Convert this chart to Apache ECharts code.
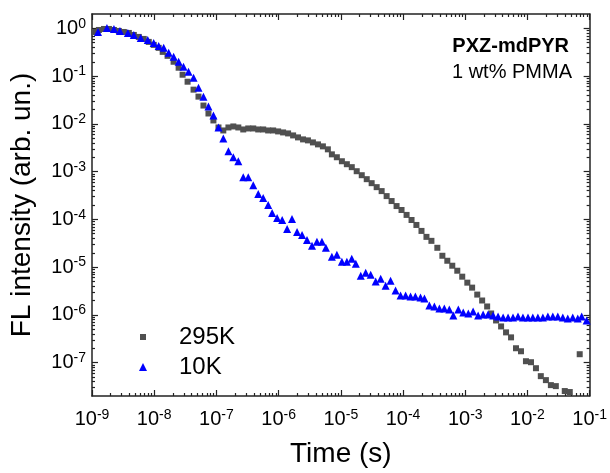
<!DOCTYPE html>
<html>
<head>
<meta charset="utf-8">
<script src="https://cdn.jsdelivr.net/npm/echarts@6.0.0/dist/echarts.min.js"></script>
<style>
html, body { margin: 0; padding: 0; background: #fff; }
#chart { width: 610px; height: 473px; }
</style>
</head>
<body>
<div id="chart"></div>
<script>
// 295K: time (s) / intensity (arb. un.)
const time295 = [1.08e-9, 1.29e-9, 1.56e-9, 1.87e-9, 2.25e-9, 2.70e-9, 3.25e-9, 3.91e-9, 4.70e-9, 5.65e-9, 6.79e-9, 8.17e-9, 9.82e-9,
  1.18e-8, 1.37e-8, 1.64e-8, 2.05e-8, 2.47e-8, 2.86e-8, 3.44e-8, 4.29e-8, 5.15e-8, 6.19e-8, 7.45e-8, 8.95e-8,
  1.08e-7, 1.29e-7, 1.56e-7, 1.87e-7, 2.25e-7, 2.70e-7, 3.25e-7, 3.91e-7, 4.70e-7, 5.65e-7, 6.79e-7, 8.17e-7, 9.82e-7,
  1.18e-6, 1.42e-6, 1.71e-6, 2.05e-6, 2.47e-6, 2.96e-6, 3.56e-6, 4.29e-6, 5.15e-6, 6.19e-6, 7.18e-6, 8.63e-6,
  1.04e-5, 1.25e-5, 1.50e-5, 1.80e-5, 2.17e-5, 2.61e-5, 3.13e-5, 3.77e-5, 4.53e-5, 5.45e-5, 6.55e-5, 7.87e-5, 9.46e-5,
  1.14e-4, 1.37e-4, 1.64e-4, 1.98e-4, 2.38e-4, 2.86e-4, 3.56e-4, 4.29e-4, 5.15e-4, 6.19e-4, 7.45e-4, 8.95e-4,
  1.08e-3, 1.29e-3, 1.56e-3, 1.87e-3, 2.25e-3, 2.61e-3, 3.13e-3, 3.77e-3, 4.53e-3, 5.45e-3, 6.55e-3, 7.87e-3, 9.46e-3,
  1.14e-2, 1.37e-2, 1.64e-2, 1.98e-2, 2.38e-2, 2.86e-2, 3.98e-2, 4.79e-2, 6.92e-2]
const int295 = [0.841, 0.926, 0.972, 0.972, 0.926, 0.883, 0.841, 0.802, 0.728, 0.662,
  0.601, 0.521, 0.451, 0.391, 0.322, 0.266, 0.200, 0.150, 0.107, 0.0764,
  0.0521, 0.0372, 0.0242, 0.0165, 0.0118, 0.00841, 0.00728, 0.00841, 0.00883, 0.00841,
  0.00764, 0.00802, 0.00802, 0.00764, 0.00764, 0.00728, 0.00728, 0.00695, 0.00662, 0.00631,
  0.00573, 0.00521, 0.00473, 0.00451, 0.00409, 0.00372, 0.00338, 0.00293, 0.00230, 0.00200,
  0.00165, 0.00143, 0.00124, 0.00102, 8.41e-4, 6.95e-4, 5.73e-4, 4.73e-4, 3.91e-4, 3.07e-4,
  2.42e-4, 1.90e-4, 1.57e-4, 1.24e-4, 9.71e-5, 7.64e-5, 5.73e-5, 4.30e-5, 3.55e-5, 2.54e-5,
  1.73e-5, 1.36e-5, 1.07e-5, 8.41e-6, 6.31e-6, 4.73e-6, 3.72e-6, 2.66e-6, 2.00e-6, 1.50e-6,
  1.07e-6, 7.64e-7, 5.73e-7, 4.30e-7, 3.38e-7, 2.00e-7, 1.73e-7, 1.07e-7, 1.02e-7, 7.64e-8,
  5.21e-8, 4.30e-8, 3.38e-8, 3.22e-8, 2.54e-8, 2.42e-8, 1.50e-7]

// 10K
const time10 = [1.25e-9, 1.74e-9, 2.25e-9, 2.81e-9, 3.77e-9, 4.70e-9, 6.08e-9, 7.87e-9, 9.82e-9, 1.18e-8, 1.42e-8, 1.71e-8, 2.05e-8,
  2.47e-8, 2.96e-8, 3.56e-8, 4.29e-8, 5.15e-8, 6.19e-8, 7.45e-8, 8.95e-8, 1.08e-7, 1.29e-7, 1.56e-7, 1.87e-7,
  2.25e-7, 2.70e-7, 3.25e-7, 3.91e-7, 4.70e-7, 5.65e-7, 6.79e-7, 7.87e-7, 9.46e-7, 1.14e-6, 1.37e-6, 1.64e-6,
  1.98e-6, 2.38e-6, 2.86e-6, 3.44e-6, 4.13e-6, 4.97e-6, 5.75e-6, 7.18e-6, 8.63e-6, 1.04e-5, 1.25e-5, 1.50e-5, 1.74e-5,
  2.09e-5, 2.51e-5, 3.02e-5, 3.63e-5, 4.37e-5, 5.25e-5, 6.31e-5, 7.59e-5, 9.12e-5, 1.10e-4, 1.32e-4, 1.58e-4, 1.91e-4,
  2.21e-4, 2.65e-4, 3.19e-4, 3.84e-4, 4.61e-4, 5.55e-4, 6.43e-4, 7.73e-4, 9.29e-4, 1.12e-3, 1.34e-3, 1.61e-3,
  1.94e-3, 2.33e-3, 2.81e-3, 3.37e-3, 4.06e-3, 4.88e-3, 5.86e-3, 7.05e-3, 8.47e-3, 1.02e-2, 1.22e-2, 1.47e-2,
  1.77e-2, 2.13e-2, 2.56e-2, 3.08e-2, 3.70e-2, 4.45e-2, 5.35e-2, 6.43e-2, 7.45e-2, 8.95e-2]
const int10 = [0.841, 1.02, 0.972, 0.883, 0.802, 0.728, 0.631, 0.573, 0.496, 0.430,
  0.391, 0.307, 0.254, 0.200, 0.157, 0.124, 0.0926, 0.0573, 0.0372, 0.0230,
  0.0150, 0.00841, 0.00496, 0.00266, 0.00200, 0.00165, 7.64e-4, 7.64e-4, 5.21e-4, 3.38e-4,
  2.79e-4, 2.00e-4, 1.36e-4, 1.07e-4, 9.71e-5, 6.31e-5, 1.02e-4, 5.46e-5, 4.73e-5, 3.72e-5,
  2.79e-5, 3.38e-5, 3.38e-5, 2.54e-5, 1.65e-5, 1.81e-5, 1.30e-5, 1.30e-5, 1.50e-5, 1.18e-5,
  6.62e-6, 7.64e-6, 6.95e-6, 4.97e-6, 5.73e-6, 4.09e-6, 5.21e-6, 3.22e-6, 2.54e-6, 2.54e-6,
  2.42e-6, 2.42e-6, 2.30e-6, 2.20e-6, 1.57e-6, 1.50e-6, 1.36e-6, 1.36e-6, 1.30e-6, 9.71e-7,
  1.30e-6, 1.12e-6, 1.07e-6, 1.18e-6, 9.71e-7, 1.02e-6, 1.02e-6, 9.71e-7, 9.26e-7, 8.83e-7,
  8.83e-7, 8.83e-7, 9.26e-7, 8.83e-7, 8.83e-7, 8.83e-7, 8.83e-7, 8.83e-7, 9.26e-7, 9.26e-7,
  9.26e-7, 8.83e-7, 8.41e-7, 8.83e-7, 8.41e-7, 9.26e-7, 7.64e-7]

// axis ranges and decade tick labels (exponents of 10)
const xRange = [1e-9, 1e-1]
const yRange = [2e-8, 2]
const xTickExps = [-9, -8, -7, -6, -5, -4, -3, -2, -1]
const yTickExps = [-7, -6, -5, -4, -3, -2, -1, 0]

const FONT = 'Liberation Sans, Arial, Helvetica, sans-serif'
const AXIS_COLOR = '#222'

const lg = Math.log10
const toPoints = (ts, vs) => ts.map((t, i) => [lg(t), lg(vs[i])])

// 2..9 minor ticks inside each decade
const minorTicks = (lo, hi) => {
  const out = []
  for (let e = Math.floor(lo); e < hi; e++) {
    for (let m = 2; m <= 9; m++) {
      const v = e + lg(m)
      if (v > lo + 1e-6 && v < hi - 1e-6) out.push(v)
    }
  }
  return out
}

const xMin = lg(xRange[0]), xMax = lg(xRange[1])
const yMin = lg(yRange[0]), yMax = lg(yRange[1])

const labelStyle = {
  formatter: v => '{b|10}{s|' + Math.round(v) + '}',
  rich: {
    b: { fontSize: 20, fontFamily: FONT, color: '#000' },
    s: { fontSize: 14, fontFamily: FONT, color: '#000', verticalAlign: 'top', padding: [0, 0, 9, 0] }
  }
}

const makeAxis = (dim, position, major, min, max, opts) => {
  const minor = !!opts.minor
  const ax = {
    type: 'value',
    min: min,
    max: max,
    position: position,
    splitLine: { show: false },
    axisLine: { show: !minor, onZero: false, lineStyle: { color: AXIS_COLOR, width: 1.5 } },
    axisTick: {
      show: true,
      inside: true,
      length: minor ? 3 : 6,
      customValues: minor ? minorTicks(min, max) : major,
      lineStyle: { color: AXIS_COLOR, width: 1.2 }
    },
    axisLabel: { show: false }
  }
  if (opts.labels) {
    ax.axisLabel = Object.assign({ show: true, customValues: major, margin: dim === 'x' ? 12 : 6 }, labelStyle)
  }
  if (opts.name) {
    ax.name = opts.name
    ax.nameLocation = 'middle'
    ax.nameGap = opts.nameGap
    ax.nameTextStyle = { fontSize: 28, fontFamily: FONT, color: '#000' }
  }
  return ax
}

const legendText = (padLeft) => ({ fontSize: 24, fontFamily: FONT, color: '#000', padding: [0, 0, 0, padLeft] })

const chart = echarts.init(document.getElementById('chart'))

chart.setOption({
  animation: false,
  backgroundColor: '#fff',
  grid: { left: 91, right: 19, top: 14, bottom: 75, containLabel: false },
  xAxis: [
    makeAxis('x', 'bottom', xTickExps, xMin, xMax, { labels: true, name: 'Time (s)', nameGap: 44 }),
    makeAxis('x', 'bottom', xTickExps, xMin, xMax, { minor: true }),
    makeAxis('x', 'top', xTickExps, xMin, xMax, {}),
    makeAxis('x', 'top', xTickExps, xMin, xMax, { minor: true })
  ],
  yAxis: [
    makeAxis('y', 'left', yTickExps, yMin, yMax, { labels: true, name: 'FL intensity (arb. un.)', nameGap: 56 }),
    makeAxis('y', 'left', yTickExps, yMin, yMax, { minor: true }),
    makeAxis('y', 'right', yTickExps, yMin, yMax, {}),
    makeAxis('y', 'right', yTickExps, yMin, yMax, { minor: true })
  ],
  legend: [
    {
      data: ['295K'], left: 140, top: 325, padding: 0, itemWidth: 6, itemHeight: 6,
      selectedMode: false, textStyle: legendText(28)
    },
    {
      data: ['10K'], left: 139, top: 355, padding: 0, itemWidth: 8, itemHeight: 8,
      selectedMode: false, textStyle: legendText(27)
    }
  ],
  graphic: [
    {
      type: 'text', x: 569, y: 46, silent: true,
      style: { text: 'PXZ-mdPYR', fontSize: 20, fontWeight: 'bold', fontFamily: FONT, fill: '#000', align: 'right', verticalAlign: 'middle' }
    },
    {
      type: 'text', x: 572, y: 72, silent: true,
      style: { text: '1 wt% PMMA', fontSize: 20, fontFamily: FONT, fill: '#000', align: 'right', verticalAlign: 'middle' }
    }
  ],
  series: [
    {
      name: '295K',
      type: 'scatter',
      symbol: 'rect',
      symbolSize: 6,
      itemStyle: { color: '#505050', opacity: 1 },
      data: toPoints(time295, int295)
    },
    {
      name: '10K',
      type: 'scatter',
      symbol: 'triangle',
      symbolSize: 8,
      itemStyle: { color: '#0000ff', opacity: 1 },
      data: toPoints(time10, int10)
    }
  ]
})

window.addEventListener('resize', () => chart.resize())
</script>
</body>
</html>
